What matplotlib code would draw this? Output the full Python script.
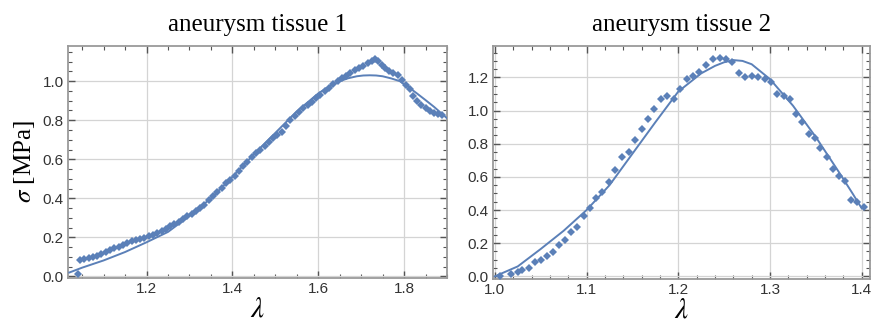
import numpy as np
import matplotlib
matplotlib.use("Agg")
import matplotlib.pyplot as plt
from matplotlib.ticker import MultipleLocator, FormatStrFormatter

plt.rcParams["mathtext.fontset"] = "stix"

# tissue 1: measured stretch / stress
lam1 = [1.040, 1.045, 1.055, 1.065, 1.075, 1.085, 1.095, 1.105, 1.115, 1.125,
        1.135, 1.145, 1.155, 1.165, 1.175, 1.185, 1.195, 1.205, 1.215, 1.225,
        1.235, 1.245, 1.255, 1.265, 1.275, 1.285, 1.295, 1.305, 1.315, 1.325,
        1.335, 1.345, 1.355, 1.365, 1.375, 1.385, 1.395, 1.405, 1.415, 1.425,
        1.435, 1.445, 1.455, 1.465, 1.475, 1.485, 1.495, 1.505, 1.515, 1.525,
        1.535, 1.545, 1.555, 1.565, 1.575, 1.585, 1.595, 1.605, 1.615, 1.625,
        1.635, 1.645, 1.655, 1.665, 1.675, 1.685, 1.695, 1.705, 1.715, 1.725,
        1.733, 1.740, 1.748, 1.756, 1.765, 1.775, 1.785, 1.795, 1.805, 1.813,
        1.820, 1.830, 1.840, 1.850, 1.860, 1.870, 1.880, 1.888]
sig1 = [0.012, 0.085, 0.088, 0.094, 0.100, 0.107, 0.116, 0.126, 0.136, 0.144,
        0.152, 0.161, 0.170, 0.180, 0.188, 0.192, 0.198, 0.207, 0.214, 0.224,
        0.234, 0.245, 0.256, 0.268, 0.281, 0.296, 0.310, 0.322, 0.336, 0.350,
        0.368, 0.390, 0.410, 0.432, 0.455, 0.476, 0.496, 0.515, 0.540, 0.565,
        0.588, 0.610, 0.630, 0.650, 0.670, 0.690, 0.708, 0.722, 0.740, 0.770,
        0.800, 0.820, 0.840, 0.860, 0.878, 0.895, 0.912, 0.928, 0.948, 0.966,
        0.985, 1.002, 1.015, 1.028, 1.040, 1.055, 1.068, 1.080, 1.092, 1.104,
        1.112, 1.105, 1.085, 1.065, 1.052, 1.042, 1.030, 1.005, 0.982, 0.962,
        0.925, 0.900, 0.880, 0.862, 0.848, 0.838, 0.830, 0.828]

# tissue 1: model fit
fit_lam1 = [1.02, 1.05, 1.10, 1.15, 1.20, 1.25, 1.30, 1.35, 1.40, 1.45, 1.50,
            1.55, 1.60, 1.62, 1.65, 1.67, 1.69, 1.705, 1.72, 1.735, 1.75, 1.77,
            1.79, 1.81, 1.83, 1.85, 1.87, 1.90]
fit_sig1 = [0.020, 0.045, 0.082, 0.125, 0.175, 0.228, 0.310, 0.400, 0.510, 0.625,
            0.735, 0.845, 0.937, 0.965, 1.000, 1.015, 1.025, 1.029, 1.030, 1.029,
            1.025, 1.014, 1.000, 0.970, 0.937, 0.903, 0.868, 0.810]

# tissue 2: measured stretch / stress
lam2 = [1.006, 1.018, 1.025, 1.030, 1.037, 1.044, 1.050, 1.057, 1.063, 1.070,
        1.077, 1.083, 1.090, 1.097, 1.104, 1.110, 1.117, 1.125, 1.131, 1.139,
        1.146, 1.153, 1.160, 1.167, 1.174, 1.181, 1.188, 1.195, 1.202, 1.209,
        1.216, 1.223, 1.230, 1.238, 1.245, 1.252, 1.259, 1.266, 1.273, 1.280,
        1.287, 1.294, 1.301, 1.308, 1.315, 1.322, 1.328, 1.335, 1.342, 1.349,
        1.355, 1.362, 1.369, 1.375, 1.382, 1.388, 1.395, 1.402]
sig2 = [0.000, 0.014, 0.026, 0.040, 0.048, 0.086, 0.100, 0.120, 0.147, 0.190,
        0.220, 0.265, 0.300, 0.367, 0.410, 0.470, 0.510, 0.570, 0.640, 0.720,
        0.750, 0.820, 0.890, 0.950, 1.010, 1.070, 1.090, 1.070, 1.130, 1.190,
        1.210, 1.235, 1.277, 1.310, 1.320, 1.310, 1.295, 1.230, 1.200, 1.210,
        1.205, 1.190, 1.170, 1.100, 1.090, 1.070, 0.980, 0.930, 0.857, 0.833,
        0.773, 0.720, 0.650, 0.606, 0.578, 0.460, 0.448, 0.420]

# tissue 2: model fit
fit_lam2 = [1.000, 1.025, 1.050, 1.075, 1.100, 1.125, 1.150, 1.175, 1.200, 1.225,
            1.240, 1.250, 1.260, 1.270, 1.280, 1.300, 1.325, 1.350, 1.375, 1.390,
            1.400]
fit_sig2 = [0.000, 0.060, 0.165, 0.275, 0.400, 0.550, 0.740, 0.930, 1.115, 1.225,
            1.270, 1.292, 1.305, 1.300, 1.280, 1.190, 1.030, 0.840, 0.630, 0.500,
            0.410]

blue = "#5b80b8"
frame = "#9a9a9a"

fig = plt.figure(figsize=(8.72, 3.33), dpi=100)
W, H = 872, 333
ax1 = fig.add_axes([68 / W, 1 - 278 / H, (447 - 68) / W, (278 - 46) / H])
ax2 = fig.add_axes([493 / W, 1 - 279 / H, (870 - 493) / W, (279 - 46) / H])

panels = [
    (ax1, lam1, sig1, fit_lam1, fit_sig1, "aneurysm tissue 1",
     (1.017, 1.90), (-0.008, 1.18), 0.2, 0.05, 3.6),
    (ax2, lam2, sig2, fit_lam2, fit_sig2, "aneurysm tissue 2",
     (0.998, 1.409), (-0.016, 1.39), 0.1, 0.02, 3.8),
]

for ax, x, y, fx, fy, title, xl, yl, xmaj, xmin, ms in panels:
    ax.plot(fx, fy, color=blue, lw=1.4, zorder=3)
    ax.plot(x, y, ls="none", marker="D", ms=ms, color=blue, mew=0, zorder=4)
    ax.set_xlim(*xl)
    ax.set_ylim(*yl)
    ax.xaxis.set_major_locator(MultipleLocator(xmaj))
    ax.xaxis.set_minor_locator(MultipleLocator(xmin))
    ax.yaxis.set_major_locator(MultipleLocator(0.2))
    ax.yaxis.set_minor_locator(MultipleLocator(0.05))
    ax.xaxis.set_major_formatter(FormatStrFormatter("%.1f"))
    ax.yaxis.set_major_formatter(FormatStrFormatter("%.1f"))
    ax.grid(True, which="major", color="#d4d4d4", lw=0.9)
    ax.set_axisbelow(True)
    for s in ax.spines.values():
        s.set_color(frame)
        s.set_linewidth(1.3)
    ax.tick_params(which="both", direction="in", top=True, right=True,
                   color="#555555", labelsize=11, labelcolor="#333333", pad=3)
    ax.tick_params(which="major", length=5, width=1.0)
    ax.tick_params(which="minor", length=2.8, width=0.8)
    for lab in ax.get_xticklabels() + ax.get_yticklabels():
        lab.set_family("Liberation Sans")
    ax.set_title(title, family="Liberation Serif", fontsize=18, pad=11)
    ax.set_xlabel(r"$\lambda$", fontsize=21, labelpad=-1)

ax1.set_ylabel(r"$\sigma$ [MPa]", family="Liberation Serif", fontsize=18, labelpad=4)

fig.savefig("out.png", dpi=100)
